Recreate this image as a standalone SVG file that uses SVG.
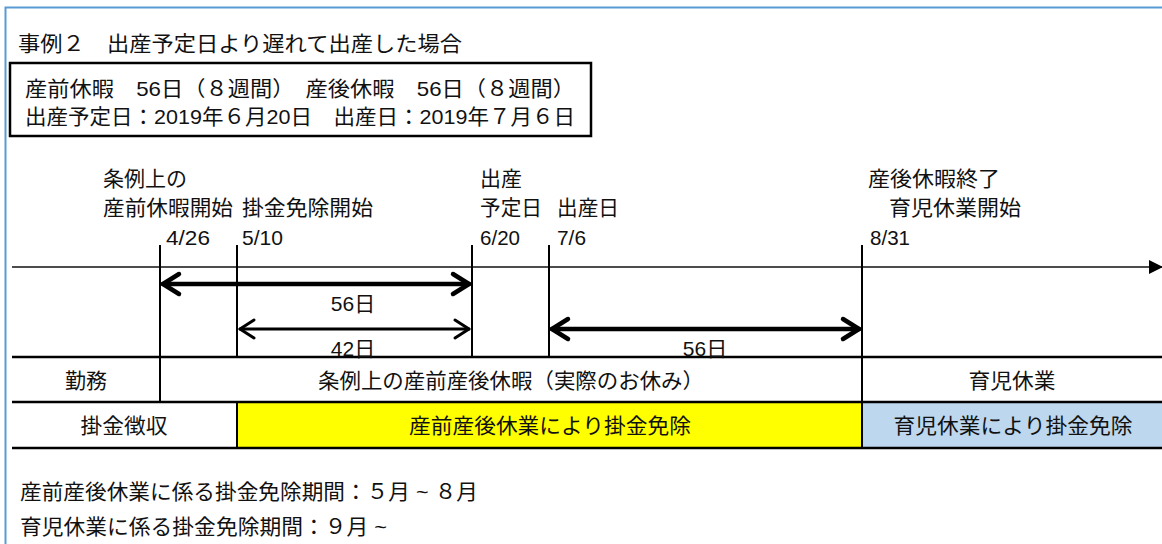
<svg xmlns="http://www.w3.org/2000/svg" width="1162" height="544" viewBox="0 0 1162 544">
<style>
text{font-family:"Liberation Sans","Noto Sans CJK JP",sans-serif;font-size:21px;fill:#111}
.c{text-anchor:middle}
.thin{stroke:#111;stroke-width:1.4;fill:none}
.vl{stroke:#000;stroke-width:2;fill:none}
.row{stroke:#000;stroke-width:2.5;fill:none}
.arr{stroke:#000;fill:none;stroke-linecap:round;stroke-linejoin:round}
</style>
<defs>
<marker id="ah" markerWidth="14" markerHeight="14" refX="13" refY="7" orient="auto" markerUnits="userSpaceOnUse">
<path d="M0,0 L14,7 L0,14 Z" fill="#000"/>
</marker>
</defs>
<rect x="0" y="0" width="1162" height="544" fill="#fff"/>
<g id="frame">
<path d="M5.5,544 V7.5 H1162" stroke="#5B9BD5" stroke-width="2" fill="none"/>
</g>
<g id="title"><text x="18" y="51" textLength="444" lengthAdjust="spacingAndGlyphs">事例２　出産予定日より遅れて出産した場合</text></g>
<g id="infobox">
<rect x="10" y="63" width="581" height="73" fill="#fff" stroke="#000" stroke-width="2.5"/>
<text x="25" y="96" textLength="550" lengthAdjust="spacingAndGlyphs">産前休暇　56日（８週間）　産後休暇　56日（８週間）</text>
<text x="25" y="124" textLength="550" lengthAdjust="spacingAndGlyphs">出産予定日：2019年６月20日　出産日：2019年７月６日</text>
</g>
<g id="fills">
<rect x="237" y="402" width="625" height="46" fill="#FFFF00"/>
<rect x="862" y="402" width="300" height="46" fill="#BDD7EE"/>
</g>
<g id="connectors">
<line x1="12" y1="267" x2="1162" y2="267" class="thin" marker-end="url(#ah)"/>
<line x1="160" y1="245" x2="160" y2="402" class="vl"/>
<line x1="237" y1="245" x2="237" y2="357" class="vl"/>
<line x1="237" y1="402" x2="237" y2="448" class="vl"/>
<line x1="472" y1="245" x2="472" y2="357" class="vl"/>
<line x1="549" y1="245" x2="549" y2="357" class="vl"/>
<line x1="862" y1="245" x2="862" y2="448" class="vl"/>
<line x1="12" y1="357" x2="1162" y2="357" class="row"/>
<line x1="12" y1="402" x2="1162" y2="402" class="row"/>
<line x1="12" y1="448" x2="1162" y2="448" class="row"/>
<g id="arrow56a" class="arr" stroke-width="4.5">
<path d="M163,284 H469"/><path d="M179,274 L163,284 L179,294"/><path d="M453,274 L469,284 L453,294"/>
</g>
<g id="arrow42" class="arr" stroke-width="3">
<path d="M240,329 H469"/><path d="M254,320 L240,329 L254,338"/><path d="M455,320 L469,329 L455,338"/>
</g>
<g id="arrow56b" class="arr" stroke-width="4.5">
<path d="M552,329 H859"/><path d="M568,319 L552,329 L568,339"/><path d="M843,319 L859,329 L843,339"/>
</g>
</g>
<g id="labels">
<text x="103" y="186">条例上の</text>
<text x="103" y="215" textLength="130" lengthAdjust="spacingAndGlyphs">産前休暇開始</text>
<text x="242" y="215" textLength="131" lengthAdjust="spacingAndGlyphs">掛金免除開始</text>
<text x="480" y="186">出産</text>
<text x="480" y="215" textLength="62" lengthAdjust="spacingAndGlyphs">予定日</text>
<text x="557" y="215" textLength="62" lengthAdjust="spacingAndGlyphs">出産日</text>
<text x="868" y="186" textLength="132" lengthAdjust="spacingAndGlyphs">産後休暇終了</text>
<text x="889" y="215" textLength="132" lengthAdjust="spacingAndGlyphs">育児休業開始</text>
<text x="166" y="245" textLength="44" lengthAdjust="spacingAndGlyphs">4/26</text>
<text x="242" y="245" textLength="41" lengthAdjust="spacingAndGlyphs">5/10</text>
<text x="480" y="245" textLength="40" lengthAdjust="spacingAndGlyphs">6/20</text>
<text x="557" y="245" textLength="29" lengthAdjust="spacingAndGlyphs">7/6</text>
<text x="870" y="245" textLength="40" lengthAdjust="spacingAndGlyphs">8/31</text>
<text x="353" y="311" class="c">56日</text>
<text x="353" y="356" class="c">42日</text>
<text x="705" y="356" class="c">56日</text>
</g>
<g id="row-work">
<text x="86" y="388" class="c">勤務</text>
<text x="511" y="388" class="c" textLength="386" lengthAdjust="spacingAndGlyphs">条例上の産前産後休暇（実際のお休み）</text>
<text x="1012" y="388" class="c" textLength="87" lengthAdjust="spacingAndGlyphs">育児休業</text>
</g>
<g id="row-premium">
<text x="124" y="433" class="c" textLength="87" lengthAdjust="spacingAndGlyphs">掛金徴収</text>
<text x="550" y="433" class="c" textLength="282" lengthAdjust="spacingAndGlyphs">産前産後休業により掛金免除</text>
<text x="1013" y="433" class="c" textLength="239" lengthAdjust="spacingAndGlyphs">育児休業により掛金免除</text>
</g>
<g id="notes">
<text x="20" y="499" textLength="458" lengthAdjust="spacingAndGlyphs">産前産後休業に係る掛金免除期間：５月 ~ ８月</text>
<text x="20" y="534" textLength="367" lengthAdjust="spacingAndGlyphs">育児休業に係る掛金免除期間：９月 ~</text>
</g>
</svg>
